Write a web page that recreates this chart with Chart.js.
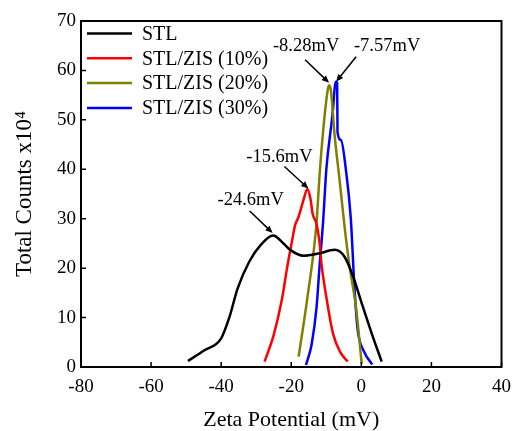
<!DOCTYPE html>
<html lang="en">
<head>
    <meta charset="UTF-8">
    <script src="https://cdn.jsdelivr.net/npm/chart.js@4.4.1/dist/chart.umd.min.js"></script>
    <style>
        html, body {
            margin: 0;
            padding: 0;
            background: #fff;
        }

        .chart-box {
            width: 520px;
            height: 431px;
        }
    </style>
    <title>Zeta Potential</title>
</head>
<body>
    <div class="chart-box">
        <canvas id="zetaChart" width="520" height="431"></canvas>
    </div>

    <script>
        // series (x in mV, y in counts x10^4)
        const seriesLabels = ['STL', 'STL/ZIS (10%)', 'STL/ZIS (20%)', 'STL/ZIS (30%)'];
        const seriesColors = ['#000000', '#ff0000', '#808000', '#0000ff'];

        const stlX = [-49.5, -45, -40, -37.6, -35.3, -32, -28.7, -25.2, -22.2, -20.3, -16.5, -11.9, -7.6, -4.8, -2.5, 0.3, 3.1, 5.8];
        const stlY = [1.2, 3.3, 5.8, 10.2, 15.9, 21.3, 24.7, 26.6, 25.0, 23.7, 22.5, 23.0, 23.7, 22.3, 18.6, 12.5, 6.5, 1.1];

        const zis10X = [-27.6, -25.0, -22.6, -21.2, -19.8, -18.9, -17.9, -16.5, -15.4, -14.5, -13.9, -12.8, -11.9, -11.4, -10.0, -8.1, -6.0, -3.9];
        const zis10Y = [1.1, 6.5, 13.9, 20.0, 25.4, 28.7, 30.4, 33.8, 36.0, 34.0, 31.0, 29.0, 25.0, 21.0, 14.2, 6.8, 3.0, 1.1];

        const zis20X = [-17.9, -15.4, -12.8, -11.9, -10.6, -9.6, -9.2, -8.7, -7.6, -6.2, -4.8, -3.4, -1.5, 0.1];
        const zis20Y = [2.1, 14.0, 29.0, 39.0, 50.0, 56.0, 57.0, 56.0, 46.7, 37.8, 28.5, 20.6, 11.9, 0.7];

        const zis30X = [-15.8, -14.2, -12.8, -11.9, -10.9, -10.0, -8.1, -7.6, -7.3, -6.9, -6.8, -5.8, -4.4, -3.0, -2.0, -1.1, 0.8, 3.1];
        const zis30Y = [0.4, 4.5, 11.9, 20.6, 29.5, 39.9, 52.0, 56.5, 57.7, 57.5, 47.5, 45.9, 39.9, 30.0, 16.6, 7.8, 3.1, 0.5];

        const xTicks = [-80, -60, -40, -20, 0, 20, 40];
        const yTicks = [0, 10, 20, 30, 40, 50, 60, 70];

        // peak annotations
        const annLabels = ['-24.6mV', '-15.6mV', '-8.28mV', '-7.57mV'];
        const annPeakX = [-25.3, -15.1, -9.2, -7.2];
        const annPeakY = [27.1, 36.1, 57.5, 57.7];

        const FONT = "'Liberation Serif', 'Times New Roman', serif";

        function toPoints(xs, ys) {
            return xs.map((x, i) => ({ x: x, y: ys[i] }));
        }

        const allX = [stlX, zis10X, zis20X, zis30X];
        const allY = [stlY, zis10Y, zis20Y, zis30Y];

        const datasets = seriesLabels.map((label, i) => ({
            label: label,
            data: toPoints(allX[i], allY[i]),
            borderColor: seriesColors[i],
            backgroundColor: seriesColors[i],
            borderWidth: 2.5,
            pointRadius: 0,
            fill: false,
            cubicInterpolationMode: 'monotone'
        }));

        // frame + inward ticks
        const framePlugin = {
            id: 'frame',
            afterDraw(chart) {
                const { ctx, chartArea: a, scales } = chart;
                ctx.save();
                ctx.strokeStyle = '#000';
                ctx.lineWidth = 2;
                ctx.strokeRect(a.left, a.top, a.right - a.left, a.bottom - a.top);
                ctx.lineWidth = 1.5;
                ctx.beginPath();
                xTicks.forEach(v => {
                    const px = scales.x.getPixelForValue(v);
                    ctx.moveTo(px, a.bottom);
                    ctx.lineTo(px, a.bottom - 5);
                });
                yTicks.forEach(v => {
                    const py = scales.y.getPixelForValue(v);
                    ctx.moveTo(a.left, py);
                    ctx.lineTo(a.left + 5, py);
                });
                ctx.stroke();
                ctx.restore();
            }
        };

        // legend inside the plot, top left
        const legendPlugin = {
            id: 'innerLegend',
            afterDraw(chart) {
                const { ctx, chartArea: a } = chart;
                ctx.save();
                ctx.font = '20px ' + FONT;
                ctx.textBaseline = 'middle';
                ctx.fillStyle = '#000';
                chart.data.datasets.forEach((ds, i) => {
                    const y = a.top + 12.5 + i * 24.8;
                    ctx.strokeStyle = ds.borderColor;
                    ctx.lineWidth = 2.5;
                    ctx.beginPath();
                    ctx.moveTo(a.left + 6, y);
                    ctx.lineTo(a.left + 51, y);
                    ctx.stroke();
                    ctx.fillText(ds.label, a.left + 61, y + 1);
                });
                ctx.restore();
            }
        };

        // text + arrow for each peak
        const annTextOffset = [[-22, -33], [-29, -31], [-23, -37], [51, -36]];
        const annArrowStart = [[-23, -22], [-24, -22], [-24, -23], [20, -25]];

        const annotationPlugin = {
            id: 'peakNotes',
            afterDraw(chart) {
                const { ctx, scales } = chart;
                ctx.save();
                ctx.font = '18.5px ' + FONT;
                ctx.textAlign = 'center';
                ctx.textBaseline = 'middle';
                ctx.fillStyle = '#000';
                ctx.strokeStyle = '#000';
                ctx.lineWidth = 1.5;
                annLabels.forEach((txt, i) => {
                    const tx = scales.x.getPixelForValue(annPeakX[i]);
                    const ty = scales.y.getPixelForValue(annPeakY[i]);
                    ctx.fillText(txt, tx + annTextOffset[i][0], ty + annTextOffset[i][1]);

                    const sx = tx + annArrowStart[i][0];
                    const sy = ty + annArrowStart[i][1];
                    const ang = Math.atan2(ty - sy, tx - sx);
                    const headLen = 8;
                    ctx.beginPath();
                    ctx.moveTo(sx, sy);
                    ctx.lineTo(tx - Math.cos(ang) * headLen * 0.8, ty - Math.sin(ang) * headLen * 0.8);
                    ctx.stroke();
                    ctx.beginPath();
                    ctx.moveTo(tx, ty);
                    ctx.lineTo(tx - headLen * Math.cos(ang - 0.4), ty - headLen * Math.sin(ang - 0.4));
                    ctx.lineTo(tx - headLen * Math.cos(ang + 0.4), ty - headLen * Math.sin(ang + 0.4));
                    ctx.closePath();
                    ctx.fill();
                });
                ctx.restore();
            }
        };

        const ctx = document.getElementById('zetaChart').getContext('2d');
        const chart = new Chart(ctx, {
            type: 'line',
            data: { datasets: datasets },
            options: {
                responsive: false,
                animation: false,
                devicePixelRatio: 1,
                layout: {
                    padding: { top: 21, right: 12, left: 0, bottom: 0 }
                },
                plugins: {
                    legend: { display: false },
                    tooltip: { enabled: false }
                },
                scales: {
                    x: {
                        type: 'linear',
                        min: -80,
                        max: 40,
                        afterFit(scale) { scale.height = 64; },
                        afterBuildTicks(scale) { scale.ticks = xTicks.map(v => ({ value: v })); },
                        grid: { display: false, drawTicks: false },
                        border: { display: false },
                        ticks: {
                            color: '#000',
                            padding: 9,
                            maxRotation: 0,
                            font: { family: FONT, size: 19 }
                        },
                        title: {
                            display: true,
                            text: 'Zeta Potential (mV)',
                            color: '#000',
                            padding: { top: 0, bottom: 0 },
                            font: { family: FONT, size: 22, lineHeight: 1 }
                        }
                    },
                    y: {
                        type: 'linear',
                        min: 0,
                        max: 70,
                        afterFit(scale) { scale.width = 81; },
                        afterBuildTicks(scale) { scale.ticks = yTicks.map(v => ({ value: v })); },
                        grid: { display: false, drawTicks: false },
                        border: { display: false },
                        ticks: {
                            color: '#000',
                            padding: 5,
                            font: { family: FONT, size: 19 }
                        },
                        title: {
                            display: true,
                            text: 'Total Counts x10\u2074',
                            color: '#000',
                            padding: { top: 13, bottom: 0 },
                            font: { family: FONT, size: 23, lineHeight: 1 }
                        }
                    }
                }
            },
            plugins: [framePlugin, legendPlugin, annotationPlugin]
        });
    </script>
</body>
</html>
